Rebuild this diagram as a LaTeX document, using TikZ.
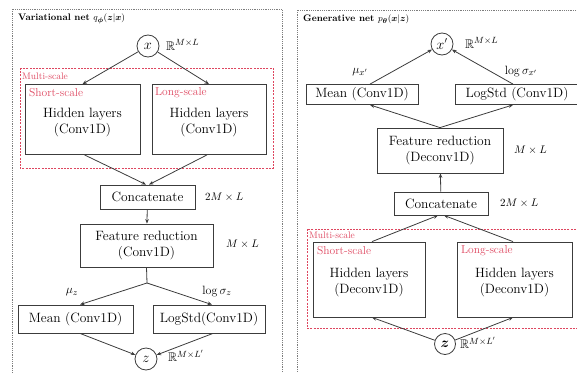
\documentclass[tikz,border=0pt]{standalone}
\usepackage{amsmath,amssymb,bm}
\usetikzlibrary{arrows.meta}
\definecolor{edge}{RGB}{60,60,60}
\definecolor{scalered}{RGB}{222,70,95}
\definecolor{frame}{RGB}{125,125,125}
\begin{document}
\begin{tikzpicture}[x=1pt, y=-1pt, font=\fontsize{13.5}{15.5}\selectfont,
  box/.style={draw=edge, line width=0.8pt, inner sep=0pt, align=center},
  var/.style={circle, draw=edge, line width=0.8pt, minimum size=22pt, inner sep=0pt},
  arr/.style={draw=edge, line width=0.8pt, -{Stealth[length=4.5pt,width=3.6pt]}},
  link/.style={draw=edge, line width=0.8pt},
  netframe/.style={draw=frame, line width=0.6pt, dash pattern=on 1.2pt off 1pt},
  scaleframe/.style={draw=scalered, line width=0.6pt, dash pattern=on 2pt off 1.2pt},
  dimlbl/.style={font=\fontsize{11}{13}\selectfont, anchor=west, inner sep=0pt},
  spacelbl/.style={font=\fontsize{12.5}{14}\selectfont, anchor=west, inner sep=0pt},
  tag/.style={text=scalered, font=\fontsize{11.5}{13}\selectfont, anchor=west, inner sep=0pt},
  small tag/.style={text=scalered, font=\fontsize{9.5}{11}\selectfont, anchor=west, inner sep=0pt},
  title/.style={font=\fontsize{9.5}{11}\selectfont\bfseries, anchor=west, inner sep=0pt}]
\useasboundingbox (0,0) rectangle (577,372);

% ---------------- encoder ----------------
\draw[netframe] (12,9) rectangle (282,380);
\node[title] (vtitle) at (18,19) {Variational net $q_{\bm\phi}(\bm z|\bm x)$};

\node[var] (x) at (148,46) {$x$};
\node[spacelbl] (xdim) at (166,45) {$\mathbb{R}^{M\times L}$};

\draw[scaleframe] (20,68) rectangle (273,168);
\node[small tag] (msL) at (22,76) {Multi-scale};
\node[box, minimum width=115pt, minimum height=70pt] (ssL) at (82.5,119.5) {\\[0pt]Hidden layers\\(Conv1D)};
\node[box, minimum width=114pt, minimum height=70pt] (lsL) at (209,119.5) {\\[0pt]Hidden layers\\(Conv1D)};
\node[tag] (ssLtag) at (29,92.5) {Short-scale};
\node[tag] (lsLtag) at (155,92.5) {Long-scale};

\node[box, minimum width=95pt, minimum height=24pt] (catL) at (147.5,197) {Concatenate};
\node[dimlbl] (catLdim) at (205,197) {$2M\times L$};
\node[box, minimum width=133pt, minimum height=43pt] (frL) at (146.5,245.5) {Feature reduction\\(Conv1D)};
\node[dimlbl] (frLdim) at (226,244) {$M\times L$};
\coordinate (splitL) at (147,283);

\node[box, minimum width=115pt, minimum height=28pt] (meanL) at (75.5,319) {Mean (Conv1D)};
\node[box, minimum width=112pt, minimum height=28pt] (lstdL) at (209,319) {LogStd(Conv1D)};
\node[spacelbl, anchor=center] (muL) at (72,292) {$\mu_{z}$};
\node[spacelbl, anchor=center] (sgL) at (217,291) {$\log\sigma_{z}$};

\node[var] (z) at (146,359) {$z$};
\node[spacelbl] (zdim) at (168,356) {$\mathbb{R}^{M\times L'}$};

\draw[arr] (x) -- (ssL.north);
\draw[arr] (x) -- (lsL.north);
\draw[arr] ([xshift=2pt]ssL.south) -- ([xshift=-1.5pt]catL.north);
\draw[arr] ([xshift=-2pt]lsL.south) -- ([xshift=1.5pt]catL.north);
\draw[arr] (catL) -- (frL);
\draw[link] (frL.south) -- (splitL);
\draw[arr] (splitL) -- ([xshift=4.5pt]meanL.north);
\draw[arr] (splitL) -- ([xshift=3pt]lstdL.north);
\draw[arr] ([xshift=4.5pt]meanL.south) -- (z);
\draw[arr] ([xshift=4pt]lstdL.south) -- (z);

% ---------------- decoder ----------------
\draw[netframe] (297,10) rectangle (600,380);
\node[title] (gtitle) at (303,19) {Generative net $p_{\bm\theta}(\bm x|\bm z)$};

\node[var] (xr) at (442,44) {$x'$};
\node[spacelbl] (xrdim) at (465,43) {$\mathbb{R}^{M\times L}$};

\node[box, minimum width=112pt, minimum height=20pt] (meanR) at (362,94.5) {Mean (Conv1D)};
\node[box, minimum width=124pt, minimum height=20pt] (lstdR) at (517,94.5) {LogStd (Conv1D)};
\node[spacelbl, anchor=center] (muR) at (360,72) {$\mu_{x'}$};
\node[spacelbl, anchor=center] (sgR) at (521,71) {$\log\sigma_{x'}$};

\node[box, minimum width=126pt, minimum height=45pt] (frR) at (440,150.5) {Feature reduction\\(Deconv1D)};
\node[dimlbl] (frRdim) at (514,150) {$M\times L$};
\node[box, minimum width=94pt, minimum height=23pt] (catR) at (441,203.5) {Concatenate};
\node[dimlbl] (catRdim) at (500,203) {$2M\times L$};

\draw[scaleframe] (307,229) rectangle (600,328);
\node[small tag] (msR) at (309,235) {Multi-scale};
\node[box, minimum width=112pt, minimum height=75pt] (ssR) at (369,279.5) {\\[0pt]Hidden layers\\(Deconv1D)};
\node[box, minimum width=115pt, minimum height=75pt] (lsR) at (514.5,279.5) {\\[0pt]Hidden layers\\(Deconv1D)};
\node[tag] (ssRtag) at (317,251) {Short-scale};
\node[tag] (lsRtag) at (461,251) {Long-scale};

\node[var, minimum size=21pt] (zr) at (445,344) {$\bm z$};
\node[spacelbl] (zrdim) at (460,343) {$\mathbb{R}^{M\times L'}$};

\draw[arr] (zr) -- ([xshift=3pt]ssR.south);
\draw[arr] (zr) -- ([xshift=-1.5pt]lsR.south);
\draw[arr] ([xshift=3pt]ssR.north) -- ([xshift=-3pt]catR.south);
\draw[arr] ([xshift=-1.5pt]lsR.north) -- ([xshift=3pt]catR.south);
\draw[arr] (catR) -- (frR);
\draw[arr] (frR.north) -- ([xshift=8pt]meanR.south);
\draw[arr] (frR.north) -- ([xshift=-4pt]lstdR.south);
\draw[arr] ([xshift=8pt]meanR.north) -- (xr);
\draw[arr] ([xshift=-4pt]lstdR.north) -- (xr);
\end{tikzpicture}
\end{document}
